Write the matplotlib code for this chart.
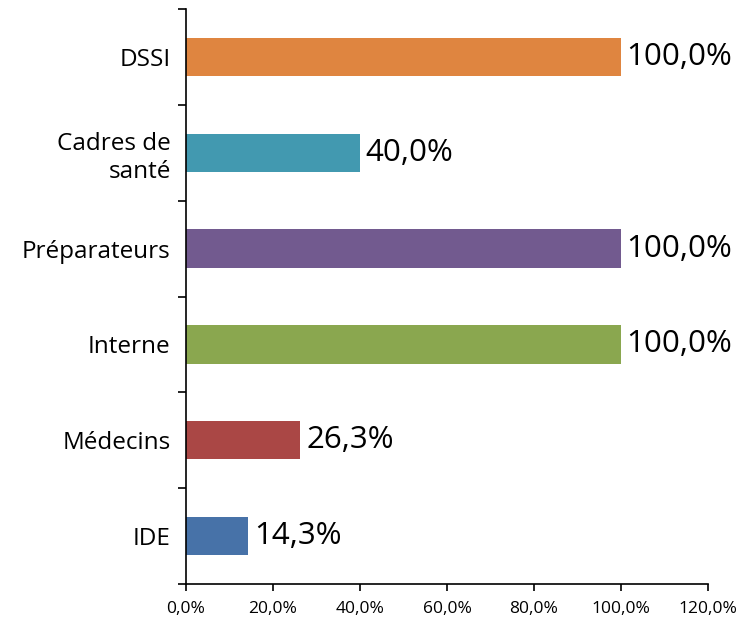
import numpy as np
import matplotlib
matplotlib.use('Agg')
import matplotlib.pyplot as plt

categories = ['IDE', 'Médecins', 'Interne', 'Préparateurs', 'Cadres de\nsanté', 'DSSI']
values = [14.3, 26.3, 100.0, 100.0, 40.0, 100.0]
colors = ['#4772A8', '#AA4745', '#8AA74F', '#725A8F', '#4299B0', '#DF8540']
x_ticks = [0, 20, 40, 60, 80, 100, 120]

plt.rcParams['font.family'] = ['Open Sans', 'DejaVu Sans']

fig = plt.figure(figsize=(7.54, 6.19), dpi=100)
ax = fig.add_axes([186 / 754, 1 - 584 / 619, (708 - 186) / 754, (584 - 9) / 619])

y = np.arange(len(categories))
ax.barh(y, values, height=0.4, color=colors)

for yi, v in zip(y, values):
    ax.text(v + 1.3, yi, f'{v:.1f}%'.replace('.', ','), va='center', ha='left', fontsize=22.5)

ax.set_xlim(0, 120)
ax.set_ylim(-0.5, len(categories) - 0.5)
ax.set_xticks(x_ticks)
ax.set_xticklabels([f'{t:.1f}%'.replace('.', ',') for t in x_ticks], fontsize=12.5)
ax.set_yticks(y)
ax.set_yticklabels(categories, fontsize=17.5, linespacing=1.25)
ax.tick_params(axis='y', length=0, pad=11)
ax.set_yticks(np.arange(-0.5, len(categories)), minor=True)
ax.tick_params(axis='y', which='minor', length=6, width=1.2)
ax.tick_params(axis='x', length=5, width=1.2, direction='out', pad=7)

for s in ['top', 'right']:
    ax.spines[s].set_visible(False)
for s in ['left', 'bottom']:
    ax.spines[s].set_linewidth(1.2)

fig.savefig('out.png', dpi=100)
